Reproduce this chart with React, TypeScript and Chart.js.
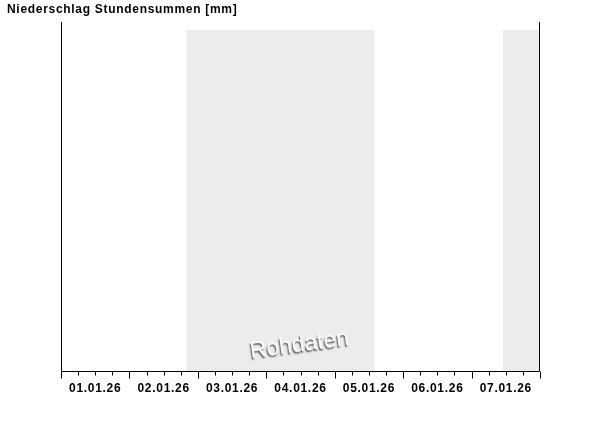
import React, { useEffect, useRef } from "react";
import { Chart, registerables } from "chart.js";

Chart.register(...registerables);

// Data
const titleText = "Niederschlag Stundensummen [mm]";
const dayLabels = ["01.01.26", "02.01.26", "03.01.26", "04.01.26", "05.01.26", "06.01.26", "07.01.26"];
// hours since 01.01.26 00:00
const precipHours: number[] = [];
const precipValues: number[] = [];
// shaded periods (hours since 01.01.26 00:00)
const shadeStart = [44, 155];
const shadeEnd = [110, 168];
const watermark = "Rohdaten";

const FONT = "'Liberation Sans', Arial, Helvetica, sans-serif";

const decorPlugin = {
  id: "decor",
  beforeDraw(chart: any) {
    (chart.ctx as any).letterSpacing = "0.7px";
  },
  beforeDatasetsDraw(chart: any) {
    const { ctx, chartArea } = chart;
    const xs = chart.scales.x;
    ctx.save();
    ctx.fillStyle = "#ececec";
    for (let i = 0; i < shadeStart.length; i++) {
      const x0 = xs.getPixelForValue(shadeStart[i]);
      const x1 = xs.getPixelForValue(shadeEnd[i]);
      ctx.fillRect(x0, chartArea.top + 8, x1 - x0, chartArea.bottom - chartArea.top - 8);
    }
    // watermark
    const cx = (chartArea.left + chartArea.right) / 2 - 1;
    const cy = chartArea.bottom - 26;
    ctx.translate(cx, cy);
    ctx.rotate(-0.135);
    (ctx as any).letterSpacing = "0px";
    ctx.font = "23px " + FONT;
    ctx.textAlign = "center";
    ctx.textBaseline = "middle";
    ctx.shadowColor = "rgba(0,0,0,0.6)";
    ctx.shadowOffsetX = -1;
    ctx.shadowOffsetY = 2;
    ctx.shadowBlur = 1.5;
    ctx.fillStyle = "#fbfbfb";
    ctx.fillText(watermark, 0, 0);
    ctx.restore();
  },
  afterDraw(chart: any) {
    const { ctx, chartArea } = chart;
    const xs = chart.scales.x;
    ctx.save();
    ctx.strokeStyle = "#000";
    ctx.lineWidth = 1;
    const L = Math.round(chartArea.left) + 0.5;
    const R = Math.round(chartArea.right) - 0.5;
    const B = Math.round(chartArea.bottom) + 0.5;
    const T = Math.round(chartArea.top);
    ctx.beginPath();
    ctx.moveTo(L, T);
    ctx.lineTo(L, B);
    ctx.lineTo(R, B);
    ctx.lineTo(R, T);
    ctx.stroke();
    ctx.beginPath();
    for (let h = 0; h <= 168; h += 6) {
      const x = Math.round(xs.getPixelForValue(h)) + 0.5;
      const len = h % 24 === 0 ? 7 : 4;
      ctx.moveTo(x, B);
      ctx.lineTo(x, B + len);
    }
    ctx.stroke();
    ctx.restore();
  },
};

export default function App() {
  const ref = useRef<HTMLCanvasElement>(null);
  useEffect(() => {
    const canvas = ref.current!;
    const chart = new Chart(canvas, {
      type: "bar",
      data: {
        datasets: [
          {
            label: "Niederschlag",
            data: precipHours.map((h, i) => ({ x: h, y: precipValues[i] })),
            backgroundColor: "#3366cc",
          },
        ],
      },
      options: {
        responsive: false,
        animation: false,
        layout: { padding: { left: 7, right: 60, top: 0, bottom: 0 } },
        plugins: {
          legend: { display: false },
          tooltip: { enabled: false },
          title: {
            display: true,
            text: titleText,
            align: "start",
            color: "#000",
            font: { family: FONT, size: 12, weight: "bold", lineHeight: 1.2 },
            padding: { top: 2, bottom: 5.6 },
          },
        },
        scales: {
          x: {
            type: "linear",
            offset: false,
            min: 0,
            max: 168,
            grid: { display: false, drawTicks: false, offset: false },
            border: { display: false },
            ticks: {
              stepSize: 12,
              autoSkip: false,
              maxRotation: 0,
              padding: 10,
              color: "#000",
              font: { family: FONT, size: 12, weight: "bold" },
              callback: (v: any) => {
                const n = Number(v);
                if (n % 24 === 12) return dayLabels[Math.floor(n / 24)] ?? "";
                return "";
              },
            },
            afterFit: (s: any) => {
              s.height = 55;
            },
          },
          y: {
            min: 0,
            max: 1,
            grid: { display: false },
            border: { display: false },
            ticks: { display: false },
            afterFit: (s: any) => {
              s.width = 54;
            },
          },
        },
      },
      plugins: [decorPlugin],
    } as any);
    return () => chart.destroy();
  }, []);
  return (
    <div style={{ position: "absolute", left: 0, top: 0, width: 600, height: 426, background: "#fff" }}>
      <canvas ref={ref} width={600} height={426} />
    </div>
  );
}
